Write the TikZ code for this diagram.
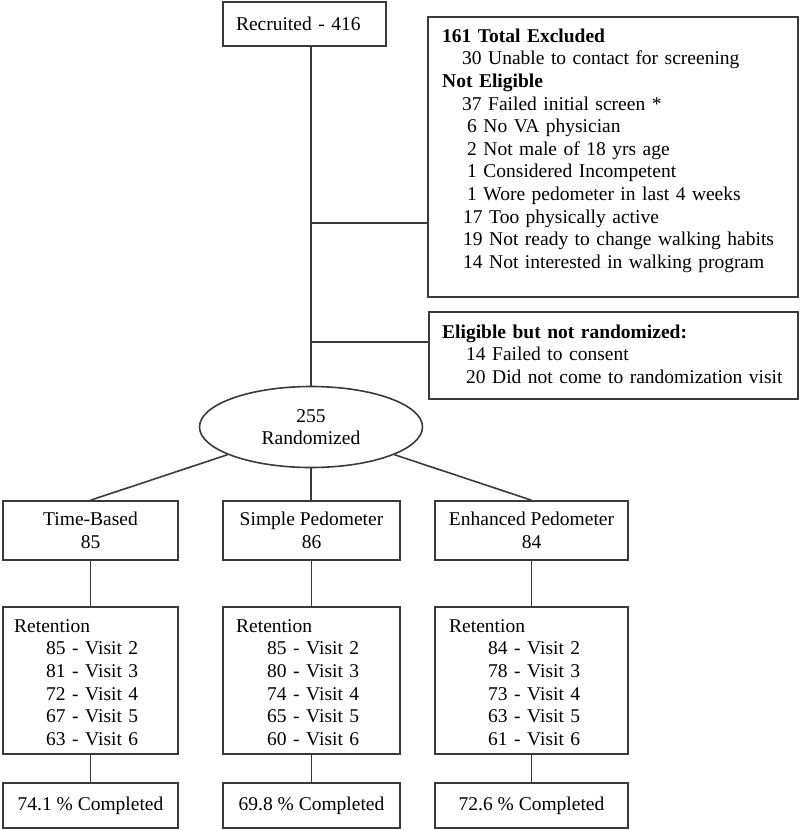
\documentclass[tikz,border=0pt]{standalone}
\usepackage{fontspec}
\setmainfont{Liberation Serif}
\usetikzlibrary{shapes.geometric,calc}
\definecolor{linegray}{RGB}{58,58,58}
\tikzset{
  fnt/.style={font=\fontsize{19.5pt}{22.6pt}\selectfont},
  box/.style={draw=linegray, line width=1.6pt, rectangle, inner sep=0pt, fnt, align=center},
  txt/.style={fnt, inner sep=0pt, anchor=north west, align=left, text width=#1},
  conn/.style={draw=linegray, line width=1.6pt},
}
\begin{document}
\begin{tikzpicture}[x=1pt,y=-1pt]
\useasboundingbox (0,0) rectangle (800,830);

% top
\node[box, minimum width=163pt, minimum height=44pt, inner xsep=13pt, text width=137pt, align=left] (rec) at (304.5,24) {Recruited - 416};

% excluded
\node[box, minimum width=370pt, minimum height=280pt] (excl) at (613,157) {};
\node[txt=350pt] (exclT) at (442,26.2) {\strut\textbf{161 Total Excluded}\\
\hspace*{20pt}30 Unable to contact for screening\\
\textbf{Not Eligible}\\
\hspace*{20pt}37 Failed initial screen *\\
\hspace*{25pt}6 No VA physician\\
\hspace*{25pt}2 Not male of 18 yrs age\\
\hspace*{25pt}1 Considered Incompetent\\
\hspace*{25pt}1 Wore pedometer in last 4 weeks\\
\hspace*{21pt}17 Too physically active\\
\hspace*{21pt}19 Not ready to change walking habits\\
\hspace*{21pt}14 Not interested in walking program};

% eligible
\node[box, minimum width=369pt, minimum height=87pt] (elig) at (613.5,355.5) {};
\node[txt=350pt] (eligT) at (442,322.2) {\strut\textbf{Eligible but not randomized:}\\
\hspace*{24pt}14 Failed to consent\\
\hspace*{24pt}20 Did not come to randomization visit};

% randomized
\node[draw=linegray, line width=1.6pt, ellipse, minimum width=223pt, minimum height=81pt, inner sep=0pt, fnt, align=center] (ell) at (311,427) {255\\Randomized};

% arms
\node[box, minimum width=175pt, minimum height=59pt] (tb) at (90.5,530.5) {Time-Based\\85};
\node[box, minimum width=177pt, minimum height=59pt] (sp) at (311.5,530.5) {Simple Pedometer\\86};
\node[box, minimum width=193pt, minimum height=59pt] (ep) at (531.5,530.5) {Enhanced Pedometer\\84};

% retention
\node[box, minimum width=175pt, minimum height=147pt] (tr) at (90.5,680.5) {};
\node[box, minimum width=177pt, minimum height=147pt] (sr) at (311.5,680.5) {};
\node[box, minimum width=193pt, minimum height=147pt] (er) at (531.5,680.5) {};
\node[txt=160pt] (trT) at (14,616.2) {\strut Retention\\
\hspace*{32pt}85 - Visit 2\\
\hspace*{32pt}81 - Visit 3\\
\hspace*{32pt}72 - Visit 4\\
\hspace*{32pt}67 - Visit 5\\
\hspace*{32pt}63 - Visit 6};
\node[txt=160pt] (srT) at (236,616.2) {\strut Retention\\
\hspace*{31pt}85 - Visit 2\\
\hspace*{31pt}80 - Visit 3\\
\hspace*{31pt}74 - Visit 4\\
\hspace*{31pt}65 - Visit 5\\
\hspace*{31pt}60 - Visit 6};
\node[txt=170pt] (erT) at (449,616.2) {\strut Retention\\
\hspace*{39pt}84 - Visit 2\\
\hspace*{39pt}78 - Visit 3\\
\hspace*{39pt}73 - Visit 4\\
\hspace*{39pt}63 - Visit 5\\
\hspace*{39pt}61 - Visit 6};

% completed
\node[box, minimum width=175pt, minimum height=45pt] (tc) at (90.5,805.5) {74.1 \% Completed};
\node[box, minimum width=177pt, minimum height=45pt] (sc) at (311.5,805.5) {69.8 \% Completed};
\node[box, minimum width=193pt, minimum height=45pt] (ec) at (531.5,805.5) {72.6 \% Completed};

% connectors
\coordinate (b1) at (311,223);
\coordinate (b2) at (311,342);
\draw[conn] (ell.north |- rec.south) -- (ell.north);
\draw[conn] (b1) -- (b1 -| excl.west);
\draw[conn] (b2) -- (b2 -| elig.west);
\draw[conn] (ell) -- (tb.north);
\draw[conn] (ell.south) -- (ell.south |- sp.north);
\draw[conn] (ell) -- (ep.north);
\draw[conn] (tb) -- (tr);
\draw[conn] (sp) -- (sr);
\draw[conn] (ep) -- (er);
\draw[conn] (tr) -- (tc);
\draw[conn] (sr) -- (sc);
\draw[conn] (er) -- (ec);
\end{tikzpicture}
\end{document}
